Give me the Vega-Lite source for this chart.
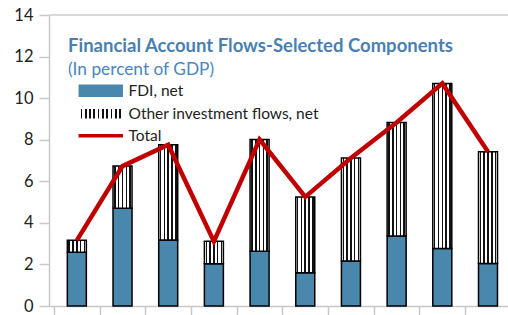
{
  "$schema": "https://vega.github.io/schema/vega-lite/v6.json",
  "autosize": "none",
  "width": 459,
  "height": 291,
  "padding": {"left": 49, "top": 15, "right": 0, "bottom": 9},
  "background": "white",
  "config": {"view": {"stroke": null}, "font": "Lato"},
  "title": {
    "text": "Financial Account Flows-Selected Components",
    "subtitle": "(In percent of GDP)",
    "anchor": "start",
    "frame": "group",
    "orient": "top",
    "font": "Lato",
    "fontSize": 18.5,
    "fontWeight": "bold",
    "color": "#4a7fb0",
    "subtitleFont": "Lato",
    "subtitleFontSize": 17.3,
    "subtitleColor": "#4a86c0",
    "subtitlePadding": 5,
    "dx": 19,
    "dy": 75
  },
  "datasets": {
    "bars": [
      {"period": 1, "series": "FDI, net", "value": 2.58},
      {"period": 1, "series": "Other investment flows, net", "value": 0.58},
      {"period": 2, "series": "FDI, net", "value": 4.70},
      {"period": 2, "series": "Other investment flows, net", "value": 2.03},
      {"period": 3, "series": "FDI, net", "value": 3.17},
      {"period": 3, "series": "Other investment flows, net", "value": 4.59},
      {"period": 4, "series": "FDI, net", "value": 2.03},
      {"period": 4, "series": "Other investment flows, net", "value": 1.08},
      {"period": 5, "series": "FDI, net", "value": 2.63},
      {"period": 5, "series": "Other investment flows, net", "value": 5.38},
      {"period": 6, "series": "FDI, net", "value": 1.60},
      {"period": 6, "series": "Other investment flows, net", "value": 3.65},
      {"period": 7, "series": "FDI, net", "value": 2.16},
      {"period": 7, "series": "Other investment flows, net", "value": 4.96},
      {"period": 8, "series": "FDI, net", "value": 3.37},
      {"period": 8, "series": "Other investment flows, net", "value": 5.46},
      {"period": 9, "series": "FDI, net", "value": 2.77},
      {"period": 9, "series": "Other investment flows, net", "value": 7.94},
      {"period": 10, "series": "FDI, net", "value": 2.05},
      {"period": 10, "series": "Other investment flows, net", "value": 5.37}
    ],
    "total": [
      {"period": 1, "series": "Total", "value": 3.16},
      {"period": 2, "series": "Total", "value": 6.73},
      {"period": 3, "series": "Total", "value": 7.76},
      {"period": 4, "series": "Total", "value": 3.11},
      {"period": 5, "series": "Total", "value": 8.01},
      {"period": 6, "series": "Total", "value": 5.25},
      {"period": 7, "series": "Total", "value": 7.12},
      {"period": 8, "series": "Total", "value": 8.83},
      {"period": 9, "series": "Total", "value": 10.71},
      {"period": 10, "series": "Total", "value": 7.42}
    ],
    "borderline": [{"top": 14}]
  },
  "layer": [
    {
      "data": {"name": "bars"},
      "mark": {"type": "bar", "size": 19, "stroke": "#000000", "strokeWidth": 1.5},
      "encoding": {
        "x": {
          "field": "period",
          "type": "quantitative",
          "scale": {"domain": [0.5, 10.3286], "nice": false, "zero": false},
          "axis": {
            "title": null,
            "labels": false,
            "ticks": true,
            "grid": false,
            "values": [0.5, 1.5, 2.5, 3.5, 4.5, 5.5, 6.5, 7.5, 8.5, 9.5],
            "tickSize": 9,
            "tickColor": "#c8c8c8",
            "tickWidth": 1.5,
            "domainColor": "#c8c8c8",
            "domainWidth": 1.5
          }
        },
        "y": {
          "field": "value",
          "type": "quantitative",
          "stack": "zero",
          "scale": {"domain": [0, 14], "nice": false},
          "axis": {
            "title": null,
            "values": [0, 2, 4, 6, 8, 10, 12, 14],
            "grid": false,
            "labelFont": "Lato",
            "labelFontSize": 16.5,
            "labelColor": "#222222",
            "labelPadding": 6,
            "tickSize": 10,
            "tickColor": "#c8c8c8",
            "tickWidth": 1.5,
            "domainColor": "#c8c8c8",
            "domainWidth": 1.5
          }
        },
        "detail": {"field": "series"},
        "order": {"field": "series", "sort": "ascending"},
        "fill": {
          "condition": {"test": "datum.series === 'FDI, net'", "value": "#4a87ad"},
          "value": {
            "gradient": "linear", "x1": 0, "y1": 0, "x2": 1, "y2": 0,
            "stops": [
              {"offset": 0, "color": "#ffffff"}, {"offset": 0.06, "color": "#ffffff"},
              {"offset": 0.06, "color": "#111111"}, {"offset": 0.14, "color": "#111111"},
              {"offset": 0.14, "color": "#ffffff"}, {"offset": 0.26, "color": "#ffffff"},
              {"offset": 0.26, "color": "#111111"}, {"offset": 0.34, "color": "#111111"},
              {"offset": 0.34, "color": "#ffffff"}, {"offset": 0.46, "color": "#ffffff"},
              {"offset": 0.46, "color": "#111111"}, {"offset": 0.54, "color": "#111111"},
              {"offset": 0.54, "color": "#ffffff"}, {"offset": 0.66, "color": "#ffffff"},
              {"offset": 0.66, "color": "#111111"}, {"offset": 0.74, "color": "#111111"},
              {"offset": 0.74, "color": "#ffffff"}, {"offset": 0.86, "color": "#ffffff"},
              {"offset": 0.86, "color": "#111111"}, {"offset": 0.94, "color": "#111111"},
              {"offset": 0.94, "color": "#ffffff"}, {"offset": 1, "color": "#ffffff"}
            ]
          }
        }
      }
    },
    {
      "data": {"name": "borderline"},
      "mark": {"type": "rule", "color": "#d9d9d9", "strokeWidth": 2},
      "encoding": {"y": {"field": "top", "type": "quantitative"}}
    },
    {
      "data": {"name": "total"},
      "mark": {"type": "line", "strokeWidth": 4.5, "strokeJoin": "miter"},
      "encoding": {
        "x": {"field": "period", "type": "quantitative"},
        "y": {"field": "value", "type": "quantitative"},
        "color": {
          "field": "series",
          "type": "nominal",
          "scale": {"domain": ["FDI, net", "Other investment flows, net", "Total"], "range": ["#4a87ad", "#ffffff", "#c00000"]},
          "legend": {
            "title": null,
            "orient": "none",
            "legendX": 44,
            "legendY": 68,
            "symbolSize": 121,
            "labelFont": "Lato",
            "labelFontSize": 15.5,
            "labelColor": "#222222",
            "labelOffset": 20,
            "labelLimit": 400,
            "rowPadding": 5,
            "encode": {
              "symbols": {
                "update": {
                  "shape": [
                    {"test": "datum.value === 'Total'", "value": "M-3.9,-0.2H3.9V0.2H-3.9Z"},
                    {"value": "M-3.9,-1H3.9V1H-3.9Z"}
                  ],
                  "fill": [
                    {"test": "datum.value === 'FDI, net'", "value": "#4a87ad"},
                    {"test": "datum.value === 'Total'", "value": "#c00000"},
                    {"value": {
                      "gradient": "linear", "x1": 0, "y1": 0, "x2": 1, "y2": 0,
                      "stops": [
                        {"offset": 0, "color": "#ffffff"}, {"offset": 0.03, "color": "#ffffff"},
                        {"offset": 0.03, "color": "#111111"}, {"offset": 0.07, "color": "#111111"},
                        {"offset": 0.07, "color": "#ffffff"}, {"offset": 0.13, "color": "#ffffff"},
                        {"offset": 0.13, "color": "#111111"}, {"offset": 0.17, "color": "#111111"},
                        {"offset": 0.17, "color": "#ffffff"}, {"offset": 0.23, "color": "#ffffff"},
                        {"offset": 0.23, "color": "#111111"}, {"offset": 0.27, "color": "#111111"},
                        {"offset": 0.27, "color": "#ffffff"}, {"offset": 0.33, "color": "#ffffff"},
                        {"offset": 0.33, "color": "#111111"}, {"offset": 0.37, "color": "#111111"},
                        {"offset": 0.37, "color": "#ffffff"}, {"offset": 0.43, "color": "#ffffff"},
                        {"offset": 0.43, "color": "#111111"}, {"offset": 0.47, "color": "#111111"},
                        {"offset": 0.47, "color": "#ffffff"}, {"offset": 0.53, "color": "#ffffff"},
                        {"offset": 0.53, "color": "#111111"}, {"offset": 0.57, "color": "#111111"},
                        {"offset": 0.57, "color": "#ffffff"}, {"offset": 0.63, "color": "#ffffff"},
                        {"offset": 0.63, "color": "#111111"}, {"offset": 0.67, "color": "#111111"},
                        {"offset": 0.67, "color": "#ffffff"}, {"offset": 0.73, "color": "#ffffff"},
                        {"offset": 0.73, "color": "#111111"}, {"offset": 0.77, "color": "#111111"},
                        {"offset": 0.77, "color": "#ffffff"}, {"offset": 0.83, "color": "#ffffff"},
                        {"offset": 0.83, "color": "#111111"}, {"offset": 0.87, "color": "#111111"},
                        {"offset": 0.87, "color": "#ffffff"}, {"offset": 0.93, "color": "#ffffff"},
                        {"offset": 0.93, "color": "#111111"}, {"offset": 0.97, "color": "#111111"},
                        {"offset": 0.97, "color": "#ffffff"}, {"offset": 1, "color": "#ffffff"}
                      ]
                    }}
                  ],
                  "stroke": [
                    {"test": "datum.value === 'Total'", "value": "#c00000"},
                    {"value": "#000000"}
                  ],
                  "strokeWidth": {"value": 1.5},
                  "opacity": {"value": 1}
                }
              }
            }
          }
        }
      }
    }
  ]
}
